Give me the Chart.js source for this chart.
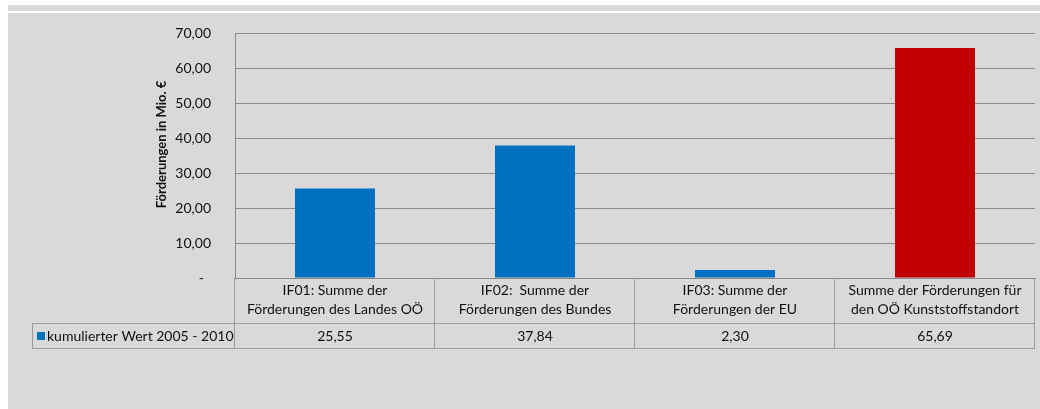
<!DOCTYPE html>
<html>
<head>
<meta charset="utf-8">
<script src="https://cdn.jsdelivr.net/npm/chart.js@4.4.1/dist/chart.umd.min.js"></script>
<style>
  html, body { margin: 0; padding: 0; background: #ffffff; }
  #wrap { width: 1040px; height: 409px; position: relative; }
</style>
</head>
<body>
<div id="wrap"><canvas id="c" width="1040" height="409"></canvas></div>
<script>
// ---- data ----
const categories = [
  ["IF01: Summe der", "Förderungen des Landes OÖ"],
  ["IF02:  Summe der", "Förderungen des Bundes"],
  ["IF03: Summe der", "Förderungen der EU"],
  ["Summe der Förderungen für", "den OÖ Kunststoffstandort"]
];
const seriesName = "kumulierter Wert 2005 - 2010";
const values = [25.55, 37.84, 2.30, 65.69];
const yTicks = [0, 10, 20, 30, 40, 50, 60, 70];
const yTitle = "Förderungen in Mio. €";

// ---- styles ----
const barColors = ["#0070C0", "#0070C0", "#0070C0", "#C00000"];
const FONT = "Lato, 'Open Sans', sans-serif";
const TEXT = '#111111';
const fmt = v => v.toFixed(2).replace('.', ',');

const backgroundPlugin = {
  id: 'bg',
  beforeDraw(chart) {
    const ctx = chart.ctx;
    ctx.save();
    ctx.fillStyle = '#ffffff';
    ctx.fillRect(0, 0, chart.width, chart.height);
    ctx.fillStyle = '#d9d9d9';
    ctx.fillRect(8, 5, chart.width - 8, chart.height - 5);
    ctx.fillStyle = '#ffffff';
    ctx.fillRect(8, 11, chart.width - 8, 2);
    ctx.restore();
  }
};

const tablePlugin = {
  id: 'datatable',
  afterDraw(chart) {
    const ctx = chart.ctx;
    const area = chart.chartArea;
    const n = categories.length;
    const colW = (area.right - area.left) / n;
    const rowTop = area.bottom + 45;
    const rowBottom = area.bottom + 70;
    const legendLeft = 32;
    ctx.save();
    ctx.strokeStyle = '#9c9c9c';
    ctx.lineWidth = 1;
    ctx.beginPath();
    ctx.moveTo(legendLeft, rowTop + 0.5); ctx.lineTo(area.right, rowTop + 0.5);
    ctx.moveTo(legendLeft, rowBottom + 0.5); ctx.lineTo(area.right, rowBottom + 0.5);
    ctx.moveTo(legendLeft + 0.5, rowTop); ctx.lineTo(legendLeft + 0.5, rowBottom);
    for (let i = 0; i <= n; i++) {
      const x = Math.round(area.left + i * colW) - 0.5;
      ctx.moveTo(x, area.bottom); ctx.lineTo(x, rowBottom);
    }
    ctx.stroke();

    // values row
    ctx.fillStyle = TEXT;
    ctx.font = "14px " + FONT;
    ctx.textAlign = 'center';
    ctx.textBaseline = 'middle';
    const xs = chart.scales.x;
    values.forEach((v, i) => {
      ctx.fillText(fmt(v), xs.getPixelForValue(i), (rowTop + rowBottom) / 2 + 1);
    });

    // legend key
    ctx.fillStyle = barColors[0];
    ctx.fillRect(37, 332, 8, 8);
    ctx.fillStyle = TEXT;
    ctx.textAlign = 'left';
    ctx.fillText(seriesName, 47, (rowTop + rowBottom) / 2 + 1);
    ctx.restore();
  }
};

new Chart(document.getElementById('c'), {
  type: 'bar',
  data: {
    labels: categories,
    datasets: [{
      label: seriesName,
      data: values,
      backgroundColor: barColors,
      borderWidth: 0,
      categoryPercentage: 1.0,
      barPercentage: 0.4
    }]
  },
  options: {
    responsive: false,
    animation: false,
    events: [],
    layout: { padding: { left: 150, right: 5, top: 33, bottom: 0 } },
    plugins: { legend: { display: false }, tooltip: { enabled: false } },
    scales: {
      x: {
        grid: { display: false, drawTicks: false },
        border: { display: true, color: '#888888' },
        ticks: {
          color: TEXT,
          font: { family: FONT, size: 14, lineHeight: '19px' },
          padding: 3,
          maxRotation: 0,
          autoSkip: false
        },
        afterFit(scale) { scale.height = 131; }
      },
      y: {
        min: 0,
        max: 70,
        afterBuildTicks(scale) { scale.ticks = yTicks.map(v => ({ value: v })); },
        grid: { color: '#8a8a8a', drawTicks: false },
        border: { display: true, color: '#888888' },
        ticks: {
          color: TEXT,
          font: { family: FONT, size: 14 },
          padding: 24,
          callback: v => v === 0 ? '-  ' : fmt(v)
        },
        title: {
          display: true,
          text: '       ' + yTitle,
          color: '#111111',
          font: { family: FONT, size: 13, weight: 'bold' },
          padding: { top: 4, bottom: 4 }
        },
        afterFit(scale) { scale.width = 85; }
      }
    }
  },
  plugins: [backgroundPlugin, tablePlugin]
});
</script>
</body>
</html>
